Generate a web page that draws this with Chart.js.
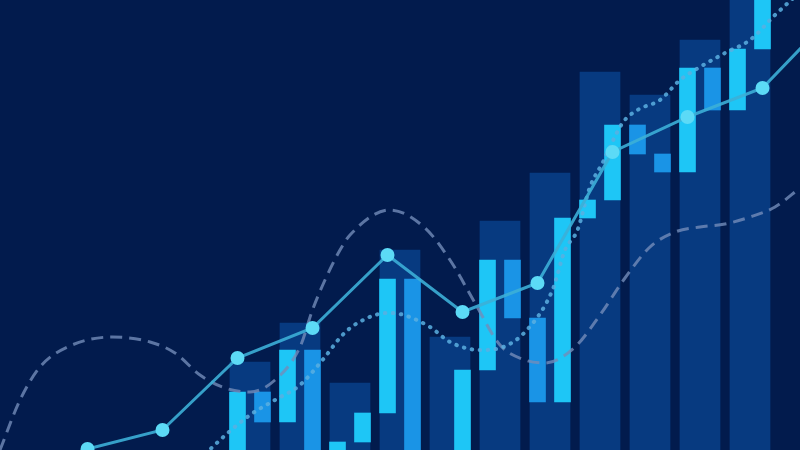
<!DOCTYPE html>
<html>
<head>
<meta charset="utf-8">
<script src="https://cdn.jsdelivr.net/npm/chart.js@4"></script>
<style>
  html, body { margin: 0; padding: 0; background: #021b4d; }
  canvas { display: block; }
</style>
</head>
<body>
<canvas id="chart" width="800" height="450"></canvas>
<script>
// tall background columns
const columnX = [10, 12, 14, 16, 18, 20, 22, 24, 26, 28, 30];
const columnTop = [88, 127, 67, 200, 113, 229, 277, 378, 355, 410, 470];

// candles (low / high), kind: 1 = bright, 0 = darker blue
const candleX = [9.5, 10.5, 11.5, 12.5, 13.5, 14.5, 15.5, 16.5, 18.5, 19.5, 20.5, 21.5, 22.5, 23.5, 24.5, 25.5, 26.5, 27.5, 28.5, 29.5, 30.5];
const candleLow = [-10, 28, 28, -10, -10, 8, 37, -10, -10, 80, 132, 48, 48, 232, 250, 296, 278, 278, 340, 340, 401];
const candleHigh = [58, 58, 100, 100, 8, 37, 171, 171, 80, 190, 190, 132, 232, 250, 325, 325, 296, 382, 382, 401, 470];
const candleKind = [1, 0, 1, 0, 1, 1, 1, 0, 1, 1, 0, 0, 1, 1, 1, 0, 0, 1, 0, 1, 1];

// solid line with markers
const lineX = [3.5, 6.5, 9.5, 12.5, 15.5, 18.5, 21.5, 24.5, 27.5, 30.5, 33.5];
const lineY = [1, 20, 92, 122, 195, 138, 167, 298, 333, 362, 440];

// dotted trend
const dotX = [8, 8.5, 10, 11, 12, 12.9, 13.7, 14.3, 15.5, 16, 17.2, 18, 19.2, 20, 21, 22.1, 22.6, 23.1, 23.6, 24.1, 24.9, 25.5, 26.4, 27.2, 28, 29, 30, 31, 32];
const dotY = [-10, 3, 35, 50, 65, 90, 115, 127, 137, 136, 123, 108, 100, 102, 118, 160, 200, 220, 263, 287, 327, 340, 350, 370, 383, 397, 410, 435, 458];

// dashed wave
const dashX = [0, 0.8, 1.6, 2.7, 4.5, 6, 7, 8, 9, 10, 11, 12, 12.5, 13, 13.6, 14, 15.6, 17, 18, 19, 20, 21, 21.8, 23, 24, 25, 26, 27, 28, 29, 30, 31, 32];
const dashY = [0, 50, 83, 103, 113, 108, 97, 75, 62, 58, 70, 103, 140, 170, 200, 215, 240, 222, 190, 147, 105, 90, 87, 103, 135, 172, 203, 218, 223, 226, 233, 243, 262];

const pts = (xs, ys) => xs.map((x, i) => ({ x: x, y: ys[i] }));

new Chart(document.getElementById("chart"), {
  type: "bar",
  data: {
    datasets: [
      {
        type: "line",
        data: pts(lineX, lineY),
        borderColor: "rgba(60,175,215,0.9)",
        borderWidth: 3,
        pointRadius: 7,
        pointBackgroundColor: "#5cdaf6",
        pointBorderWidth: 0,
        tension: 0,
        order: 1
      },
      {
        type: "line",
        data: pts(dotX, dotY),
        borderColor: "rgba(90,175,225,0.85)",
        borderWidth: 4,
        borderDash: [0.5, 7.5],
        borderCapStyle: "round",
        pointRadius: 0,
        cubicInterpolationMode: "monotone",
        order: 2
      },
      {
        type: "line",
        data: pts(dashX, dashY),
        borderColor: "rgba(115,140,185,0.8)",
        borderWidth: 3,
        borderDash: [12, 7],
        pointRadius: 0,
        cubicInterpolationMode: "monotone",
        order: 3
      },
      {
        data: candleX.map((x, i) => ({ x: x, y: [candleLow[i], candleHigh[i]] })),
        backgroundColor: ctx => candleKind[ctx.dataIndex] ? "#1ec6f6" : "#1a94e6",
        barThickness: 16,
        grouped: false,
        order: 4
      },
      {
        data: pts(columnX, columnTop),
        backgroundColor: "#073a80",
        barThickness: 40,
        grouped: false,
        order: 5
      }
    ]
  },
  options: {
    responsive: false,
    animation: false,
    layout: { padding: 0, autoPadding: false },
    plugins: { legend: { display: false }, tooltip: { enabled: false } },
    scales: {
      x: { type: "linear", min: 0, max: 32, offset: false, display: false },
      y: { min: 0, max: 450, display: false }
    }
  }
});
</script>
</body>
</html>
